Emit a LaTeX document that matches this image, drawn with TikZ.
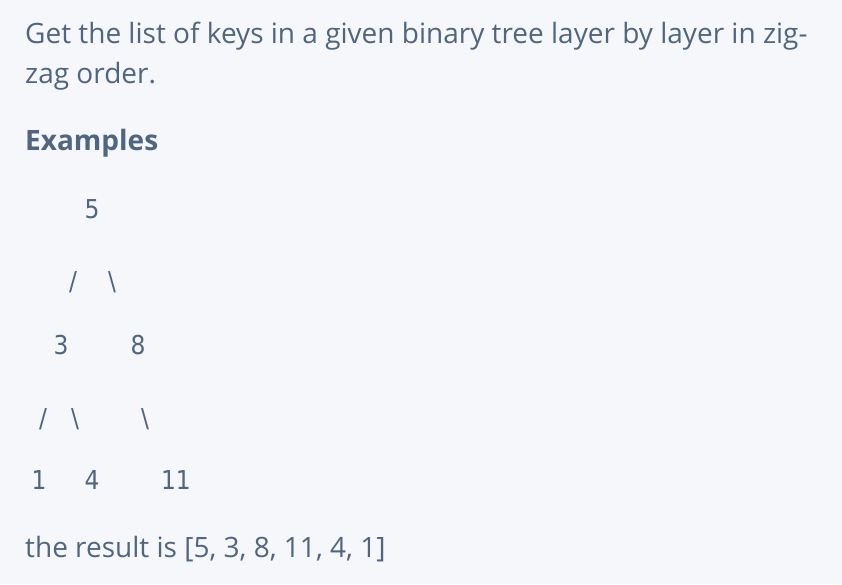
\documentclass[tikz,border=0pt]{standalone}
\usepackage{fontspec}
\setmainfont{Open Sans}
\newfontfamily\treefont{DejaVu Sans Condensed}
\usetikzlibrary{positioning}
\definecolor{pagebg}{HTML}{F5F7FA}
\definecolor{slate}{HTML}{4F6580}

\begin{document}
\begin{tikzpicture}[
    x=1pt, y=-1pt,
    para/.style={anchor=base west, inner sep=0pt, text=slate, font=\fontsize{28}{34}\selectfont},
    heading/.style={para, font=\fontsize{28}{34}\selectfont\bfseries},
    key/.style={anchor=base, inner sep=0pt, text=slate, font=\treefont\fontsize{26}{30}\selectfont}
]

% Page
\fill[pagebg] (0,0) rectangle (842,584);
\useasboundingbox (0,0) rectangle (842,584);

% Task text
\node[para] (line1) at (25,43) {Get the list of keys in a given binary tree layer by layer in zig-};
\node[para] (line2) at (25,83) {zag order.};
\node[heading] (examples) at (25,150) {Examples};

% Tree, typed as text
\node[key] (k5) at (92,218) {5};
\node[key] (e53) at (73,290) {/};
\node[key] (e58) at (112,290) {\textbackslash};
\node[key] (k3) at (61,354) {3};
\node[key] (k8) at (138,354) {8};
\node[key] (e31) at (43,427) {/};
\node[key] (e34) at (75,427) {\textbackslash};
\node[key] (e811) at (145,427) {\textbackslash};
\node[key] (k1) at (39,489) {1};
\node[key] (k4) at (92,489) {4};
\node[key] (k11) at (176,489) {11};

% Result
\node[para] (result) at (25,557) {the result is [5, 3, 8, 11, 4, 1]};

\end{tikzpicture}
\end{document}
